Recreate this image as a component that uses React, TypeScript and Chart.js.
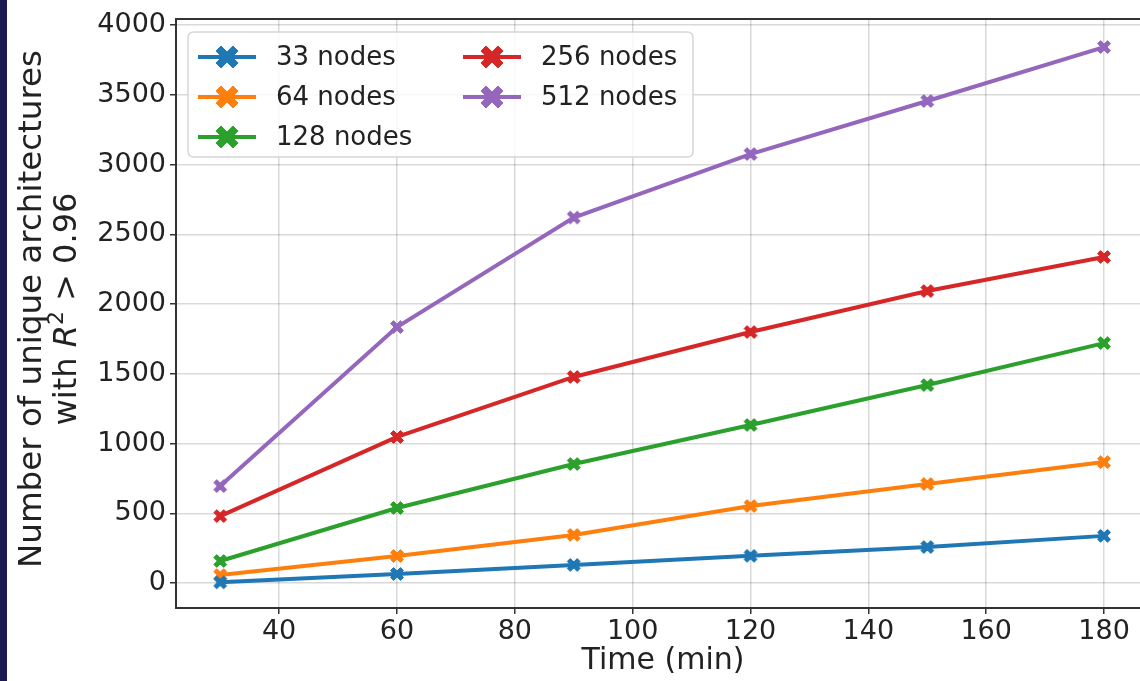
import React, { useEffect, useRef } from "react";
import { Chart, registerables } from "chart.js";

Chart.register(...registerables);

const timeMinutes = [30, 60, 90, 120, 150, 180];
const nodes33 = [5, 65, 130, 195, 258, 338];
const nodes64 = [57, 194, 345, 552, 710, 867];
const nodes128 = [158, 538, 853, 1133, 1419, 1720];
const nodes256 = [480, 1047, 1477, 1799, 2093, 2337];
const nodes512 = [695, 1835, 2620, 3075, 3455, 3842];
const seriesLabels = ["33 nodes", "64 nodes", "128 nodes", "256 nodes", "512 nodes"];
const seriesColors = ["#1f77b4", "#ff7f0e", "#2ca02c", "#d62728", "#9467bd"];
const xTickValues = [40, 60, 80, 100, 120, 140, 160, 180];
const yTickValues = [0, 500, 1000, 1500, 2000, 2500, 3000, 3500, 4000];

const FONT = "'DejaVu Sans', Verdana, sans-serif";

function makeXMarker(color: string, size: number): HTMLCanvasElement {
  const c = document.createElement("canvas");
  c.width = size;
  c.height = size;
  const ctx = c.getContext("2d")!;
  const h = size / 2 - 1;
  const t = 0.3;
  const pts = [
    [-t, 1], [t, 1], [t, t], [1, t], [1, -t], [t, -t],
    [t, -1], [-t, -1], [-t, -t], [-1, -t], [-1, t], [-t, t],
  ];
  const a = Math.PI / 4;
  ctx.beginPath();
  pts.forEach(([px, py], i) => {
    const rx = (px * Math.cos(a) - py * Math.sin(a)) * h + size / 2;
    const ry = (px * Math.sin(a) + py * Math.cos(a)) * h + size / 2;
    if (i === 0) ctx.moveTo(rx, ry);
    else ctx.lineTo(rx, ry);
  });
  ctx.closePath();
  ctx.fillStyle = color;
  ctx.fill();
  ctx.lineJoin = "round";
  ctx.lineWidth = 1;
  ctx.strokeStyle = color;
  ctx.stroke();
  return c;
}

export default function App() {
  const ref = useRef<HTMLCanvasElement | null>(null);

  useEffect(() => {
    if (!ref.current) return;
    const allSeries = [nodes33, nodes64, nodes128, nodes256, nodes512];
    const plotMarkers = seriesColors.map((c) => makeXMarker(c, 16));
    const legendMarkers = seriesColors.map((c) => makeXMarker(c, 26));

    const decorPlugin = {
      id: "decor",
      afterDraw(chart: any) {
        const ctx = chart.ctx as CanvasRenderingContext2D;
        const area = chart.chartArea;
        ctx.save();
        // top spine
        ctx.strokeStyle = "#333333";
        ctx.lineWidth = 2;
        ctx.beginPath();
        ctx.moveTo(area.left - 1, area.top);
        ctx.lineTo(area.right, area.top);
        ctx.stroke();

        // legend box
        const bx = 188, by = 32, bw = 505, bh = 125, r = 6;
        ctx.beginPath();
        ctx.moveTo(bx + r, by);
        ctx.lineTo(bx + bw - r, by);
        ctx.quadraticCurveTo(bx + bw, by, bx + bw, by + r);
        ctx.lineTo(bx + bw, by + bh - r);
        ctx.quadraticCurveTo(bx + bw, by + bh, bx + bw - r, by + bh);
        ctx.lineTo(bx + r, by + bh);
        ctx.quadraticCurveTo(bx, by + bh, bx, by + bh - r);
        ctx.lineTo(bx, by + r);
        ctx.quadraticCurveTo(bx, by, bx + r, by);
        ctx.closePath();
        ctx.fillStyle = "rgba(255,255,255,0.8)";
        ctx.fill();
        ctx.strokeStyle = "#d6d6d6";
        ctx.lineWidth = 1.5;
        ctx.stroke();

        const pos = [
          [198, 57], [198, 97], [198, 137], [463, 57], [463, 97],
        ];
        ctx.font = `26px ${FONT}`;
        ctx.textBaseline = "middle";
        ctx.textAlign = "left";
        seriesLabels.forEach((lab, i) => {
          const [lx, ly] = pos[i];
          ctx.strokeStyle = seriesColors[i];
          ctx.lineWidth = 4;
          ctx.beginPath();
          ctx.moveTo(lx, ly);
          ctx.lineTo(lx + 58, ly);
          ctx.stroke();
          const m = legendMarkers[i];
          ctx.drawImage(m, lx + 29 - m.width / 2, ly - m.height / 2);
          ctx.fillStyle = "#222222";
          ctx.fillText(lab, lx + 78, ly + 1);
        });

        // x title
        ctx.font = `30px ${FONT}`;
        ctx.textAlign = "center";
        ctx.fillStyle = "#222222";
        ctx.fillText("Time (min)", 663, 661);

        // y title
        ctx.save();
        ctx.translate(33, 309);
        ctx.rotate(-Math.PI / 2);
        ctx.font = `32.5px ${FONT}`;
        ctx.textAlign = "center";
        ctx.fillText("Number of unique architectures", 0, 0);
        // second line
        const y2 = 35;
        const normal = `32px ${FONT}`;
        const italic = `italic 32px ${FONT}`;
        const sup = `22px ${FONT}`;
        const parts: [string, string, number][] = [
          ["with ", normal, 0],
          ["R", italic, 0],
          ["2", sup, -11],
          [" > 0.96", normal, 0],
        ];
        let total = 0;
        parts.forEach(([t, f]) => {
          ctx.font = f;
          total += ctx.measureText(t).width;
        });
        let cx = -total / 2;
        ctx.textAlign = "left";
        parts.forEach(([t, f, dy]) => {
          ctx.font = f;
          ctx.fillText(t, cx, y2 + dy);
          cx += ctx.measureText(t).width;
        });
        ctx.restore();

        // left navy strip
        ctx.fillStyle = "#1c1a4e";
        ctx.fillRect(0, 0, 7, chart.height);
        ctx.restore();
      },
    };

    const chart = new Chart(ref.current, {
      type: "line",
      data: {
        datasets: allSeries.map((vals, i) => ({
          label: seriesLabels[i],
          data: vals.map((v, j) => ({ x: timeMinutes[j], y: v })),
          borderColor: seriesColors[i],
          backgroundColor: seriesColors[i],
          borderWidth: 4,
          pointStyle: plotMarkers[i] as any,
          pointRadius: 8,
          tension: 0,
          fill: false,
        })),
      },
      options: {
        animation: false,
        responsive: false,
        devicePixelRatio: 1,
        layout: { autoPadding: false, padding: { top: 19, left: 0, right: 0, bottom: 0 } },
        plugins: {
          legend: { display: false },
          tooltip: { enabled: false },
        },
        scales: {
          x: {
            type: "linear",
            min: 22.5,
            max: 186.1,
            afterBuildTicks(scale: any) {
              scale.ticks = xTickValues.map((v) => ({ value: v }));
            },
            afterFit(scale: any) {
              scale.height = 73;
              scale.paddingLeft = 0;
              scale.paddingRight = 0;
            },
            ticks: {
              font: { family: FONT, size: 27 },
              color: "#222222",
              padding: 2,
              maxRotation: 0,
              autoSkip: false,
              callback: (v: any) => String(v),
            },
            grid: {
              color: "rgba(0,0,0,0.15)",
              lineWidth: 1.5,
              tickColor: "#333333",
              tickLength: 6,
              drawTicks: true,
            },
            border: { display: true, color: "#333333", width: 2 },
          },
          y: {
            type: "linear",
            min: -179,
            max: 4043,
            afterBuildTicks(scale: any) {
              scale.ticks = yTickValues.map((v) => ({ value: v }));
            },
            afterFit(scale: any) {
              scale.width = 176;
              scale.paddingTop = 0;
              scale.paddingBottom = 0;
            },
            ticks: {
              font: { family: FONT, size: 27 },
              color: "#222222",
              padding: 4,
              autoSkip: false,
              callback: (v: any) => String(v),
            },
            grid: {
              color: "rgba(0,0,0,0.15)",
              lineWidth: 1.5,
              tickColor: "#333333",
              tickLength: 6,
              drawTicks: true,
            },
            border: { display: true, color: "#333333", width: 2 },
          },
        },
      },
      plugins: [decorPlugin],
    });
    return () => chart.destroy();
  }, []);

  return (
    <div style={{ position: "fixed", left: 0, top: 0, width: 1140, height: 681, background: "#ffffff" }}>
      <canvas ref={ref} width={1140} height={681} style={{ display: "block" }} />
    </div>
  );
}
